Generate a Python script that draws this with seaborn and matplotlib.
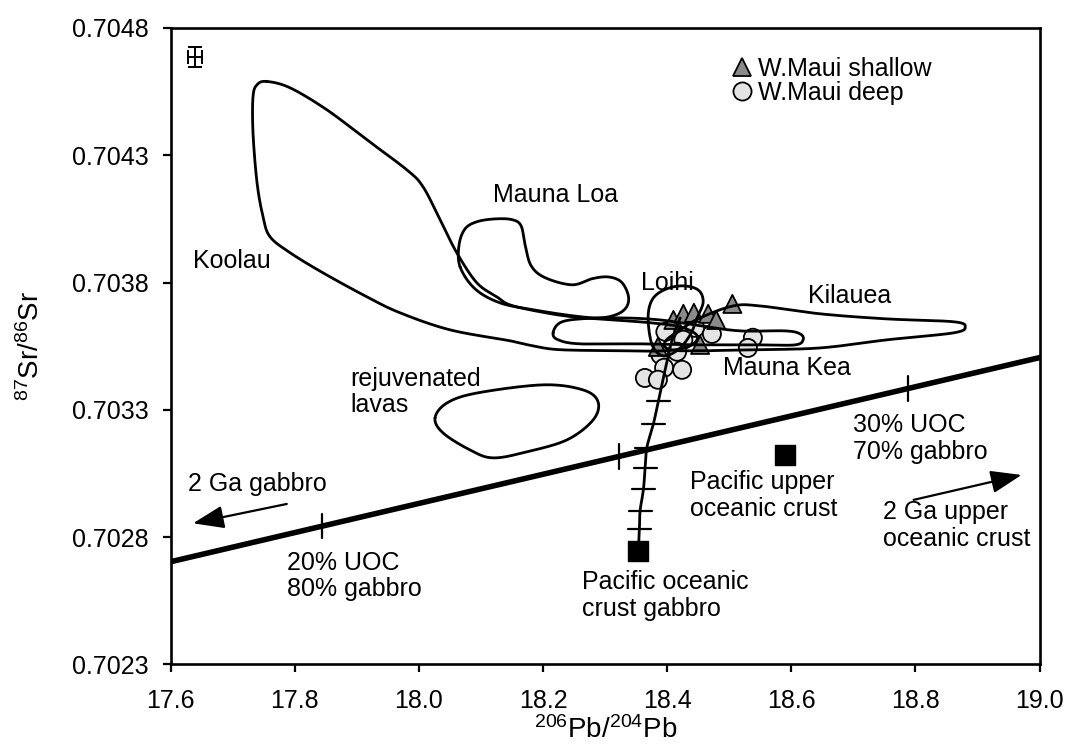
import numpy as np
import pandas as pd
import matplotlib
matplotlib.use("Agg")
import matplotlib.pyplot as plt
import seaborn as sns

# ---- W. Maui lavas (206Pb/204Pb, 87Sr/86Sr) ----
shallow_pb = [18.410, 18.426, 18.443, 18.466, 18.479, 18.505, 18.453, 18.385]
shallow_sr = [0.703653, 0.703677, 0.703681, 0.703677, 0.703653, 0.703716, 0.703555, 0.703547]
deep_pb = [18.397, 18.445, 18.426, 18.389, 18.416, 18.395, 18.424, 18.364, 18.385, 18.538, 18.530, 18.472]
deep_sr = [0.703606, 0.703622, 0.703575, 0.703516, 0.703528, 0.703465, 0.703457, 0.703425, 0.703418,
           0.703583, 0.703543, 0.703598]

# ---- Hawaiian volcano fields (outline vertices) ----
koolau_pb = [17.7547, 17.7923, 17.8514, 17.9159, 17.9803, 18.0066, 18.0340, 18.0609, 18.0932, 18.1254,
             18.1468, 18.1952, 18.2483, 18.3128, 18.3724, 18.4208, 18.4482, 18.4369, 18.3966, 18.3241,
             18.2274, 18.1839, 18.1468, 18.0501, 17.9695, 17.9159, 17.8454, 17.7923, 17.7600, 17.7488,
             17.7391, 17.7326, 17.7326, 17.7391]
koolau_sr = [0.704590, 0.704565, 0.704479, 0.704361, 0.704243, 0.704176, 0.704047, 0.703917, 0.703799,
             0.703744, 0.703712, 0.703685, 0.703665, 0.703653, 0.703642, 0.703626, 0.703591, 0.703551,
             0.703532, 0.703532, 0.703536, 0.703551, 0.703571, 0.703614, 0.703681, 0.703744, 0.703838,
             0.703917, 0.703980, 0.704058, 0.704192, 0.704388, 0.704530, 0.704577]

mauna_loa_pb = [18.0662, 18.0646, 18.0743, 18.0936, 18.1226, 18.1500, 18.1645, 18.1710, 18.1807, 18.2032,
                18.2467, 18.2790, 18.3048, 18.3257, 18.3370, 18.3354, 18.3209, 18.2919, 18.2483, 18.1839,
                18.1307, 18.0904]
mauna_loa_sr = [0.703862, 0.703948, 0.704011, 0.704039, 0.704050, 0.704047, 0.704023, 0.703948, 0.703866,
                0.703819, 0.703791, 0.703815, 0.703822, 0.703803, 0.703752, 0.703708, 0.703677, 0.703661,
                0.703669, 0.703693, 0.703720, 0.703775]

loihi_pb = [18.3757, 18.3692, 18.3757, 18.3950, 18.4240, 18.4498, 18.4579, 18.4482, 18.4369, 18.4176, 18.3934]
loihi_sr = [0.703555, 0.703661, 0.703732, 0.703771, 0.703787, 0.703771, 0.703724, 0.703661, 0.703594,
            0.703536, 0.703512]

mauna_kea_pb = [18.2161, 18.2274, 18.2596, 18.3241, 18.3886, 18.4530, 18.5175, 18.5900, 18.6142, 18.6190,
                18.6061, 18.5497, 18.4530, 18.3563, 18.2596, 18.2242]
mauna_kea_sr = [0.703602, 0.703642, 0.703657, 0.703661, 0.703653, 0.703630, 0.703610, 0.703610, 0.703598,
                0.703575, 0.703555, 0.703555, 0.703555, 0.703559, 0.703559, 0.703575]

kilauea_pb = [18.4208, 18.4530, 18.5062, 18.5497, 18.6464, 18.7544, 18.8608, 18.8801, 18.8608, 18.7544,
              18.6464, 18.5384, 18.4530, 18.4047, 18.3966]
kilauea_sr = [0.703614, 0.703661, 0.703708, 0.703708, 0.703677, 0.703657, 0.703646, 0.703626, 0.703602,
              0.703575, 0.703543, 0.703536, 0.703532, 0.703536, 0.703567]

rejuv_pb = [18.0259, 18.0453, 18.0936, 18.2000, 18.2645, 18.2886, 18.2806, 18.2387, 18.1742, 18.1194,
            18.0824, 18.0388]
rejuv_sr = [0.703268, 0.703327, 0.703366, 0.703398, 0.703378, 0.703331, 0.703260, 0.703182, 0.703135,
            0.703111, 0.703142, 0.703209]

# ---- mixing models ----
uoc_line_pb = [17.6, 19.0]
uoc_line_sr = [0.702703, 0.703505]
uoc_tick_pb = [17.844, 18.3225, 18.788]

gabbro_curve_pb = [18.3536, 18.3552, 18.3563, 18.3617, 18.3644, 18.3671, 18.3778, 18.3858, 18.3966,
                   18.4079, 18.4208]
gabbro_curve_sr = [0.702747, 0.702831, 0.702903, 0.702988, 0.703073, 0.703151, 0.703245, 0.703336,
                   0.703457, 0.703575, 0.703661]
gabbro_tick_sr = [0.702831, 0.702903, 0.702988, 0.703073, 0.703151, 0.703245, 0.703336]

# end members
end_pb = [18.3536, 18.5900]
end_sr = [0.702747, 0.703123]

# analytical uncertainty
err_pb, err_sr = 17.639, 0.704687
err_dpb, err_dsr = 0.0113, 0.0000393

x_ticks = [17.6, 17.8, 18.0, 18.2, 18.4, 18.6, 18.8, 19.0]
y_ticks = [0.7023, 0.7028, 0.7033, 0.7038, 0.7043, 0.7048]


def smooth_closed(xs, ys, n=24):
    """Closed Catmull-Rom spline through the outline vertices."""
    P = np.column_stack([xs, ys])
    N = len(P)
    t = np.linspace(0, 1, n, endpoint=False)[:, None]
    segs = []
    for i in range(N):
        p0, p1, p2, p3 = P[(i - 1) % N], P[i], P[(i + 1) % N], P[(i + 2) % N]
        segs.append(0.5 * (2 * p1 + (-p0 + p2) * t + (2 * p0 - 5 * p1 + 4 * p2 - p3) * t ** 2
                           + (-p0 + 3 * p1 - 3 * p2 + p3) * t ** 3))
    out = np.vstack(segs + [P[:1]])
    return out[:, 0], out[:, 1]


def smooth_open(xs, ys, n=24):
    P = np.column_stack([xs, ys])
    P = np.vstack([2 * P[0] - P[1], P, 2 * P[-1] - P[-2]])
    t = np.linspace(0, 1, n, endpoint=False)[:, None]
    segs = []
    for i in range(1, len(P) - 2):
        p0, p1, p2, p3 = P[i - 1], P[i], P[i + 1], P[i + 2]
        segs.append(0.5 * (2 * p1 + (-p0 + p2) * t + (2 * p0 - 5 * p1 + 4 * p2 - p3) * t ** 2
                           + (-p0 + 3 * p1 - 3 * p2 + p3) * t ** 3))
    out = np.vstack(segs + [P[-2:-1]])
    return out[:, 0], out[:, 1]


sns.set_style("ticks")
plt.rcParams["font.family"] = ["Liberation Sans", "DejaVu Sans"]
plt.rcParams["mathtext.default"] = "regular"
for key in ["text.color", "axes.labelcolor", "xtick.color", "ytick.color", "axes.edgecolor"]:
    plt.rcParams[key] = "black"
FS = 18

fig = plt.figure(figsize=(10.72, 7.47), dpi=100)
ax = fig.add_axes([0.15924, 0.11071, 0.81054, 0.85181])

# data points
df = pd.DataFrame({
    "pb": deep_pb + shallow_pb,
    "sr": deep_sr + shallow_sr,
    "group": ["W.Maui deep"] * len(deep_pb) + ["W.Maui shallow"] * len(shallow_pb),
})
sns.scatterplot(data=df, x="pb", y="sr", hue="group", style="group",
                hue_order=["W.Maui shallow", "W.Maui deep"],
                style_order=["W.Maui shallow", "W.Maui deep"],
                markers={"W.Maui shallow": "^", "W.Maui deep": "o"},
                palette={"W.Maui shallow": "#8a8a8a", "W.Maui deep": "#e4e4e4"},
                s=170, edgecolor="black", linewidth=1.3, ax=ax, zorder=2)

# volcano fields
line_kw = dict(color="black", linewidth=2.0, sort=False, estimator=None, ax=ax, zorder=3, legend=False)
for fx, fy in [(koolau_pb, koolau_sr), (mauna_loa_pb, mauna_loa_sr), (loihi_pb, loihi_sr),
               (mauna_kea_pb, mauna_kea_sr), (kilauea_pb, kilauea_sr), (rejuv_pb, rejuv_sr)]:
    sx, sy = smooth_closed(fx, fy)
    sns.lineplot(x=sx, y=sy, **line_kw)

# UOC-gabbro mixing line with tick marks
sns.lineplot(x=uoc_line_pb, y=uoc_line_sr, color="black", linewidth=4.0, ax=ax, zorder=4, legend=False)
tick_sr = np.interp(uoc_tick_pb, uoc_line_pb, uoc_line_sr)
for px, py in zip(uoc_tick_pb, tick_sr):
    ax.plot([px, px], [py - 0.000048, py + 0.000048], color="black", lw=1.6, zorder=4)

# mixing curve from the gabbro end member
cx, cy = smooth_open(gabbro_curve_pb, gabbro_curve_sr)
sns.lineplot(x=cx, y=cy, color="black", linewidth=2.0, sort=False, estimator=None, ax=ax, zorder=4,
             legend=False)
tick_pb = np.interp(gabbro_tick_sr, gabbro_curve_sr, gabbro_curve_pb)
for px, py in zip(tick_pb, gabbro_tick_sr):
    ax.plot([px - 0.0185, px + 0.0185], [py, py], color="black", lw=1.6, zorder=4)

# end-member squares
ax.scatter(end_pb, end_sr, marker="s", s=190, color="black", zorder=5)

# error bar
ax.errorbar(err_pb, err_sr, xerr=err_dpb, yerr=err_dsr, color="black", lw=1.4,
            capsize=5, capthick=1.4, zorder=5)

# arrows to the 2 Ga end members
arrow_kw = dict(arrowstyle="-|>,head_length=0.95,head_width=0.35", color="black", lw=1.6,
                mutation_scale=20, shrinkA=0, shrinkB=0)
ax.annotate("", xy=(17.636, 0.702854), xytext=(17.787, 0.702930), arrowprops=arrow_kw, zorder=5)
ax.annotate("", xy=(18.971, 0.703044), xytext=(18.797, 0.702946), arrowprops=arrow_kw, zorder=5)

# labels
txt = dict(fontsize=FS, ha="left", va="center", linespacing=1.15, zorder=6)
ax.text(17.6364, 0.703883, "Koolau", **txt)
ax.text(18.1194, 0.704145, "Mauna Loa", **txt)
ax.text(18.3579, 0.703799, "Loihi", **txt)
ax.text(18.6271, 0.703748, "Kilauea", **txt)
ax.text(18.4901, 0.703465, "Mauna Kea", **txt)
ax.text(17.8890, 0.703370, "rejuvenated\nlavas", **txt)
ax.text(18.6996, 0.703187, "30% UOC\n70% gabbro", **txt)
ax.text(18.4369, 0.702964, "Pacific upper\noceanic crust", **txt)
ax.text(18.7480, 0.702844, "2 Ga upper\noceanic crust", **txt)
ax.text(17.6279, 0.703009, "2 Ga gabbro", **txt)
ax.text(17.7874, 0.702647, "20% UOC\n80% gabbro", **txt)
ax.text(18.2628, 0.702569, "Pacific oceanic\ncrust gabbro", **txt)

# axes
ax.set_xlim(17.6, 19.0)
ax.set_ylim(0.7023, 0.7048)
ax.set_xticks(x_ticks)
ax.set_yticks(y_ticks)
ax.set_xticklabels([f"{v:.1f}" for v in x_ticks])
ax.set_yticklabels([f"{v:.4f}" for v in y_ticks])
ax.tick_params(axis="both", direction="out", length=6, width=1.6, labelsize=FS, colors="black")
ax.tick_params(axis="x", pad=12)
ax.tick_params(axis="y", pad=10)
for sp in ax.spines.values():
    sp.set_visible(True)
    sp.set_linewidth(1.9)
    sp.set_color("black")

ax.set_xlabel(r"$^{206}$Pb/$^{204}$Pb", fontsize=20, va="center")
ax.set_ylabel(r"$^{87}$Sr/$^{86}$Sr", fontsize=20, va="center")
ax.xaxis.set_label_coords(0.5, -0.104)
ax.yaxis.set_label_coords(-0.1608, 0.5)

handles, labels = ax.get_legend_handles_labels()
ax.legend(handles, labels, loc="center left", bbox_to_anchor=(0.6463, 0.9167), frameon=False,
          borderpad=0, borderaxespad=0, handlelength=0.8, handletextpad=0.22, labelspacing=0.0,
          fontsize=FS, markerscale=1.0)

fig.savefig("out.png", dpi=100)
